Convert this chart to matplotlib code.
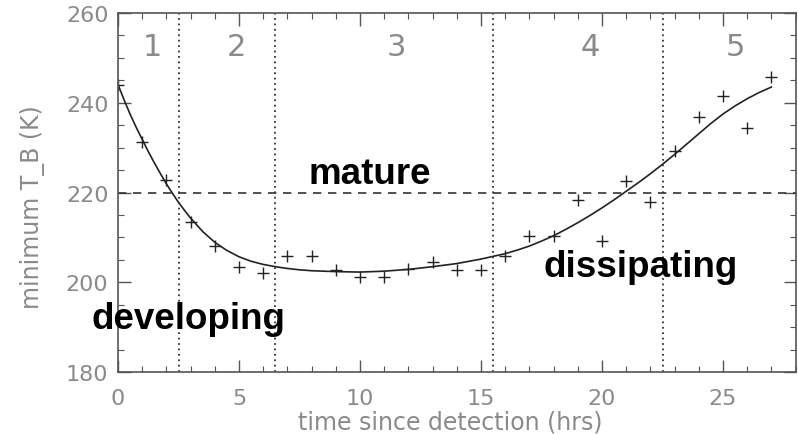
import numpy as np
import matplotlib.pyplot as plt
from matplotlib.ticker import MultipleLocator

# observed minimum brightness temperature, one per hour
hours = np.arange(0, 28)
tb_obs = [244.0, 231.3, 222.8, 213.5, 208.1, 203.4, 202.1, 205.9, 205.9, 202.8,
          201.2, 201.2, 203.0, 204.5, 202.8, 202.8, 205.9, 210.3, 210.3, 218.4,
          209.2, 222.6, 217.9, 229.3, 236.8, 241.5, 234.4, 245.7]

# smooth fitted curve
fit_x = [0, 0.25, 0.5, 0.75, 1, 1.25, 1.5, 1.75, 2, 2.25, 2.5, 2.75, 3, 3.5, 4,
         4.5, 5, 5.5, 6, 6.5, 7, 7.5, 8, 9, 10, 11, 12, 13, 14, 15, 15.5, 16,
         16.5, 17, 17.5, 18, 18.5, 19, 19.5, 20, 20.5, 21, 21.5, 22, 22.5, 23,
         23.5, 24, 24.5, 25, 25.5, 26, 26.5, 27]
fit_y = [244.0, 240.6, 237.4, 234.5, 231.8, 229.1, 226.6, 224.2, 221.9, 219.8,
         217.8, 216.0, 214.3, 211.3, 208.9, 207.1, 205.7, 204.7, 204.0, 203.5,
         203.1, 202.8, 202.6, 202.4, 202.3, 202.5, 202.9, 203.5, 204.2, 205.2,
         205.8, 206.4, 207.2, 208.1, 209.2, 210.4, 211.8, 213.3, 214.9, 216.6,
         218.4, 220.3, 222.2, 224.2, 226.3, 228.5, 230.8, 233.1, 235.4, 237.5,
         239.3, 240.9, 242.3, 243.5]

# stage boundaries and labels
stage_bounds = [2.5, 6.5, 15.5, 22.5]
stage_nums = ["1", "2", "3", "4", "5"]
stage_num_x = [1.4, 4.9, 11.5, 19.5, 25.5]
mature_level = 220

gray = "#8a8a8a"
axcol = "#555555"

fig = plt.figure(figsize=(7.98, 4.35), dpi=100)
ax = fig.add_axes([0.148, 0.142, 0.849, 0.826])

ax.plot(fit_x, fit_y, color="#222222", lw=1.2)
ax.plot(hours, tb_obs, linestyle="none", marker="+", ms=9, mew=1.0, color="#222222")

for b in stage_bounds:
    ax.axvline(b, color="#333333", ls=(0, (1, 2)), lw=1.3)
ax.axhline(mature_level, color="#333333", ls=(0, (5, 4)), lw=1.2)

for n, xn in zip(stage_nums, stage_num_x):
    ax.text(xn, 252.6, n, ha="center", va="center", fontsize=22, color=gray,
            family="DejaVu Sans")

bold = dict(family="Liberation Sans", fontweight="bold", fontsize=26.5, color="black")
ax.text(10.4, 220.3, "mature", ha="center", va="bottom", **bold)
ax.text(2.9, 192, "developing", ha="center", va="center", **bold)
ax.text(21.6, 203.5, "dissipating", ha="center", va="center", **bold)

ax.set_xlim(0, 28)
ax.set_ylim(180, 260)
ax.xaxis.set_major_locator(MultipleLocator(5))
ax.xaxis.set_minor_locator(MultipleLocator(1))
ax.yaxis.set_major_locator(MultipleLocator(20))
ax.yaxis.set_minor_locator(MultipleLocator(5))
ax.tick_params(which="both", direction="in", top=True, right=True, color=axcol,
               labelcolor=gray, labelsize=16)
ax.tick_params(which="major", length=9, width=1.0)
ax.tick_params(which="minor", length=4, width=0.8)
ax.tick_params(axis="x", which="major", pad=11)
ax.tick_params(axis="y", which="major", pad=7)
for s in ax.spines.values():
    s.set_color(axcol)
    s.set_linewidth(1.2)

ax.set_xlabel("time since detection (hrs)", color=gray, fontsize=17, va="center")
ax.set_ylabel("minimum T_B (K)", color=gray, fontsize=17, va="center")
ax.xaxis.set_label_coords(0.49, -0.136)
ax.yaxis.set_label_coords(-0.127, 0.462)

fig.savefig("out.png", dpi=100)
